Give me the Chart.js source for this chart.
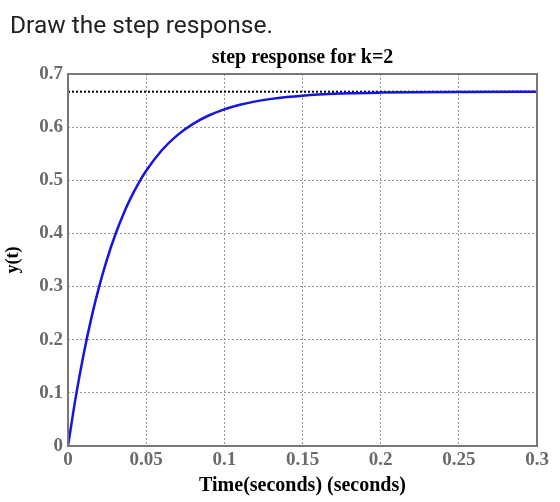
<!DOCTYPE html>
<html>
<head>
<meta charset="utf-8">
<script src="https://cdn.jsdelivr.net/npm/chart.js@4"></script>
<style>
  body { margin: 0; background: #fff; }
  #wrap { position: relative; width: 560px; height: 502px; }
  #heading {
    position: absolute; left: 10px; top: 13px;
    font-family: Roboto, sans-serif; font-size: 24.5px; line-height: 24px;
    color: #222; white-space: nowrap;
  }
  canvas { position: absolute; left: 0; top: 0; }
</style>
</head>
<body>
<div id="wrap">
  <canvas id="stepChart" width="560" height="502"></canvas>
  <div id="heading">Draw the step response.</div>
</div>
<script>
// time samples (s) and response values
const timeValues = [0, 0.005, 0.01, 0.015, 0.02, 0.025, 0.03, 0.035, 0.04, 0.045, 0.05,
  0.06, 0.07, 0.08, 0.09, 0.1, 0.11, 0.12, 0.13, 0.14, 0.15, 0.16, 0.18, 0.2, 0.22, 0.25, 0.3];
const responseValues = [0, 0.0929, 0.1728, 0.2416, 0.3008, 0.3518, 0.3956, 0.4334, 0.4659, 0.4939, 0.5179,
  0.5565, 0.5850, 0.6062, 0.6219, 0.6335, 0.6421, 0.6485, 0.6532, 0.6567, 0.6593, 0.6612, 0.6637, 0.6650, 0.6658, 0.6663, 0.6666];

// final value line
const finalTimes = [0, 0.3];
const finalValues = [0.6667, 0.6667];

const xTickLabels = ['0', '0.05', '0.1', '0.15', '0.2', '0.25', '0.3'];
const yTickLabels = ['0', '0.1', '0.2', '0.3', '0.4', '0.5', '0.6', '0.7'];

const chartTitle = 'step response for k=2';
const serif = '"Liberation Serif", "Times New Roman", serif';

// box around the plot area, title centred over the plot area
const frame = {
  id: 'frame',
  afterDraw(chart) {
    const a = chart.chartArea;
    const ctx = chart.ctx;
    ctx.save();
    ctx.setLineDash([]);
    ctx.strokeStyle = '#777';
    ctx.lineWidth = 2;
    ctx.strokeRect(a.left, a.top, a.right - a.left, a.bottom - a.top);
    ctx.fillStyle = '#000';
    ctx.font = 'bold 20px ' + serif;
    ctx.textAlign = 'center';
    ctx.textBaseline = 'middle';
    ctx.fillText(chartTitle, (a.left + a.right) / 2, a.top - 16);
    ctx.restore();
  }
};

const ctx = document.getElementById('stepChart').getContext('2d');
new Chart(ctx, {
  type: 'line',
  data: {
    datasets: [{
      label: 'y(t)',
      data: timeValues.map((t, i) => ({ x: t, y: responseValues[i] })),
      borderColor: '#1515e0',
      borderWidth: 2.5,
      pointRadius: 0,
      cubicInterpolationMode: 'monotone',
      fill: false,
      order: 0
    }, {
      label: 'final value',
      data: finalTimes.map((t, i) => ({ x: t, y: finalValues[i] })),
      borderColor: '#000',
      borderWidth: 2,
      borderDash: [2, 2],
      pointRadius: 0,
      fill: false,
      order: 1
    }]
  },
  options: {
    responsive: false,
    animation: false,
    layout: { padding: { top: 74, right: 23, left: 0, bottom: 0 } },
    plugins: {
      legend: { display: false },
      tooltip: { enabled: false },
      title: { display: false }
    },
    scales: {
      x: {
        type: 'linear',
        min: 0,
        max: 0.3,
        afterFit(scale) { scale.height = 56; },
        afterBuildTicks(scale) {
          scale.ticks = xTickLabels.map(s => ({ value: parseFloat(s) }));
        },
        ticks: {
          callback: (v, i) => xTickLabels[i],
          color: '#6a6a6a',
          font: { family: serif, size: 19, weight: 'bold' },
          padding: 3,
          maxRotation: 0
        },
        grid: { color: '#999', lineWidth: 1, drawTicks: false },
        border: { display: false, dash: [2, 2] },
        title: {
          display: true,
          text: 'Time(seconds) (seconds)',
          color: '#000',
          font: { family: serif, size: 20, weight: 'bold' },
          padding: { top: 0, bottom: 4 }
        }
      },
      y: {
        min: 0,
        max: 0.7,
        afterFit(scale) { scale.width = 68; },
        afterBuildTicks(scale) {
          scale.ticks = yTickLabels.map(s => ({ value: parseFloat(s) }));
        },
        ticks: {
          callback: (v, i) => yTickLabels[i],
          color: '#6a6a6a',
          font: { family: serif, size: 19, weight: 'bold' },
          padding: 5
        },
        grid: { color: '#999', lineWidth: 1, drawTicks: false },
        border: { display: false, dash: [2, 2] },
        title: {
          display: true,
          text: 'y(t)',
          color: '#000',
          font: { family: serif, size: 18, weight: 'bold' },
          padding: { top: 3, bottom: 0 }
        }
      }
    }
  },
  plugins: [frame]
});
</script>
</body>
</html>
